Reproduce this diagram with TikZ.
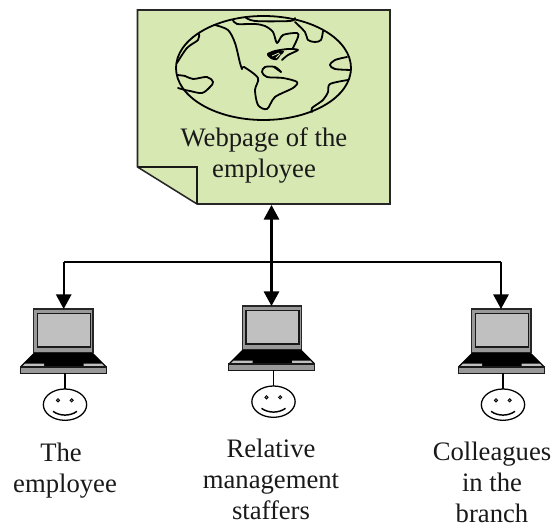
\documentclass[tikz,border=0pt]{standalone}
\usepackage{fontspec}
\setmainfont{Liberation Serif}
\usetikzlibrary{arrows.meta}
\definecolor{pagegreen}{HTML}{D7E8B3}
\definecolor{scrgray}{HTML}{999999}
\definecolor{scrlight}{HTML}{C0C0C0}
\tikzset{
  px/.style={x=.75pt,y=-.75pt},
  label/.style={font=\fontsize{20}{23.25}\selectfont,align=center,inner sep=0pt,text=black!90},
  landline/.style={line width=1.35pt,black,line join=round,line cap=round},
  conn/.style={line width=1.2pt,black},
  connarrow/.style={line width=1.5pt,black,-{Triangle[length=11pt,width=11.5pt]}},
  connboth/.style={line width=1.6pt,black,{Triangle[length=11pt,width=11.5pt]}-{Triangle[length=11pt,width=11.5pt]}},
  laptop/.pic={
    \begin{scope}[x=.25pt,y=-.25pt]
      \coordinate (-top) at (0,0);
      \draw[line width=.95pt,draw=black!85,fill=scrgray] (-94,0) rectangle (84,130);
      \draw[line width=1.1pt,draw=black!90,fill=scrlight] (-82,14) rectangle (76,114);
      \fill[black] (-94,132) -- (84,132) -- (124,172) -- (-134,172) -- cycle;
      \fill[scrlight] (-120,164) -- (-63,164) -- (-63,172) -- (-128,172) -- cycle;
      \fill[scrlight] (56,164) -- (111,164) -- (118,172) -- (56,172) -- cycle;
      \draw[line width=.8pt,draw=black!90,fill=scrgray] (-134,174) rectangle (124,193);
      \draw[line width=.8pt,black] (0,193) -- (0,240);
      \draw[line width=.95pt,black,fill=white] (0,287) ellipse [x radius=65,y radius=47];
      \draw[line width=.6pt,fill=gray] (-21,274) circle [radius=5];
      \draw[line width=.6pt,fill=gray] (20,274) circle [radius=5];
      \draw[line width=1.1pt,black] (-36,307) .. controls (-15,322) and (15,322) .. (36,307);
    \end{scope}
  }
}
\begin{document}
\begin{tikzpicture}[px]
\useasboundingbox (0,0) rectangle (558,527);
% page
\draw[line width=1.15pt,draw=black!85,fill=pagegreen,line join=miter]
  (137.5,10) -- (390,10) -- (390,204) -- (197,204) -- (137.5,167) -- cycle;
\draw[line width=1.15pt,draw=black!90] (137.5,167) -- (197,167) -- (197,204);
% globe
\draw[landline] (263.5,68) ellipse [x radius=87.5,y radius=52];
\draw[landline] plot[smooth,tension=.55] coordinates {(177,63) (187,48) (198,40) (199,34)};
\draw[landline] plot[smooth,tension=.55] coordinates {(177,75) (185,76) (193,79) (207,77) (213,82) (210,87) (202,93) (190,91) (185,90) (178,88)};
\draw[landline] plot[smooth,tension=.5] coordinates {(215,25) (228,30) (235,43) (240,63) (242,69)};
\draw[landline] plot[smooth,tension=.5] coordinates {(242,69) (244,67) (258,78) (255,90) (258,105) (267,109) (275,97) (293,88) (297,82) (283,78) (267,77) (262,72) (265,67) (275,67) (281,72)};
\draw[landline] plot[smooth,tension=.5] coordinates {(281,72) (274,67)};
\draw[landline] plot[smooth,tension=.5] coordinates {(233,20) (237,24) (255,24) (265,26) (273,32) (277,43) (283,35) (297,33) (298,37) (293,48)};
\draw[landline] plot[smooth,tension=.5] coordinates {(245,17) (255,21) (290,21) (295,18)};
\draw[landline] plot[smooth,tension=.5] coordinates {(268,54) (275,51) (288,49) (298,50) (288,55) (282,60)};
\fill[black] plot[smooth cycle,tension=.6] coordinates {(267,54) (274,51) (284,51) (280,56) (277,60) (271,59)};
\draw[pagegreen,line width=.6pt] (272,56) -- (279,53) (276,58) -- (280,54);
\draw[landline] plot[smooth,tension=.5] coordinates {(295,22) (305,32) (308,40) (315,42) (321,40) (323,31)};
\draw[landline] plot[smooth,tension=.5] coordinates {(347,57) (335,60) (330,65) (335,69) (351,70)};
\draw[landline] plot[smooth,tension=.5] coordinates {(348,80) (330,84) (328,92) (323,100) (312,108) (312,112)};
% page text
\node[label,anchor=base] (webtext) at (264,178) {Webpage of the\\employee};
% laptops
\pic (lapA) at (65,309) {laptop};
\pic (lapB) at (273.5,306) {laptop};
\pic (lapC) at (503,309) {laptop};
% connectors
\coordinate (pagebot) at (271.5,205);
\coordinate (busL) at (63.7,262);
\coordinate (busR) at (501,262);
\draw[conn] (busL) -- (busR);
\draw[connarrow] (busL) -- (busL |- lapA-top);
\draw[connarrow] (busR) -- (busR |- lapC-top);
\draw[connboth] (pagebot) -- (pagebot |- lapB-top);
% labels
\node[label,anchor=base] (labA) at (65,493) {The\hspace*{6pt}\\employee};
\node[label,anchor=base] (labB) at (271,520) {Relative\\management\\staffers};
\node[label,anchor=base] (labC) at (492,523) {Colleagues\\in the\\branch};
\end{tikzpicture}
\end{document}
